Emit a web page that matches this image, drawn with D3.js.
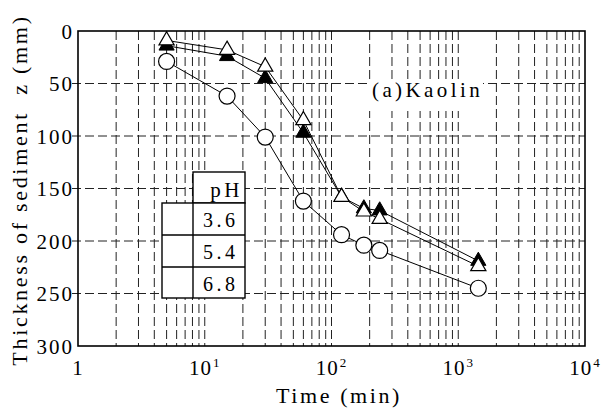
<!DOCTYPE html>
<html><head><meta charset="utf-8">
<script src="https://cdn.jsdelivr.net/npm/d3@7"></script>
<style>body{margin:0;background:#fff}svg{display:block}</style>
</head><body>
<svg id="c" width="602" height="413"></svg>
<script>
const times = [5, 15, 30, 60, 120, 180, 240, 1440];
const circleZ = [29, 62, 101, 162, 194, 204, 209, 245];
const blackTriZ = [14, 24, 45, 97, 158, 169, 171, 219];
const openTriZ = [9, 18, 34, 85, 158, 172, 179, 224];
const yTicks = [0, 50, 100, 150, 200, 250, 300];
const xDecades = [1, 10, 100, 1000, 10000];
const legendLabels = ["3.6", "5.4", "6.8"];

const FONT = "'Liberation Serif', 'Times New Roman', serif";
const svg = d3.select("#c");
const L = 78, R = 585, T = 31, B = 346;
const x = d3.scaleLog().domain([1, 10000]).range([L, R]);
const y = d3.scaleLinear().domain([0, 300]).range([T, B]);

function txt(sel, size, ls) {
  return sel.style("font-family", FONT).style("font-size", size + "px").style("letter-spacing", ls + "px").style("fill", "#000");
}

// grid
const minor = [];
for (let d = 1; d < 10000; d *= 10) for (let k = 2; k <= 10; k++) minor.push(d * k);
svg.append("g").selectAll("line").data(minor.filter(v => v < 10000)).join("line")
  .attr("x1", d => x(d)).attr("x2", d => x(d)).attr("y1", T).attr("y2", B)
  .attr("stroke", "#222").attr("stroke-width", 1).attr("stroke-dasharray", "9,4");
svg.append("g").selectAll("line").data(yTicks.slice(1, -1)).join("line")
  .attr("x1", L - 6).attr("x2", R).attr("y1", d => y(d)).attr("y2", d => y(d))
  .attr("stroke", "#222").attr("stroke-width", 1).attr("stroke-dasharray", "9,4");

// frame
svg.append("rect").attr("x", L).attr("y", T).attr("width", R - L).attr("height", B - T)
  .attr("fill", "none").attr("stroke", "#000").attr("stroke-width", 1.6);

// y tick labels
txt(svg.append("g").selectAll("text").data(yTicks).join("text")
  .attr("x", L - 4).attr("y", d => y(d) + 7.5).attr("text-anchor", "end"), 21, 2).text(d => d);

// x tick labels
const xl = txt(svg.append("g").selectAll("text").data(xDecades).join("text")
  .attr("x", d => x(d)).attr("y", B + 29).attr("text-anchor", "middle"), 21, 1);
xl.each(function(d, i) {
  const t = d3.select(this);
  if (i === 0) { t.text("1"); return; }
  t.append("tspan").text("10");
  t.append("tspan").attr("dy", -8.5).attr("dx", 1).style("font-size", "13px").text(i);
});

// axis titles
txt(svg.append("text").attr("x", 339).attr("y", 403).attr("text-anchor", "middle"), 22, 2.6).text("Time (min)");
txt(svg.append("text").attr("transform", "translate(27,190) rotate(-90)")
  .attr("text-anchor", "middle"), 22, 2.7)
  .style("white-space", "pre")
  .text("Thickness of sediment  z (mm)");

// label with white box
svg.append("rect").attr("x", 368).attr("y", 80).attr("width", 115).attr("height", 31).attr("fill", "#fff");
txt(svg.append("text").attr("x", 372).attr("y", 97), 21, 3.4).text("(a)Kaolin");

// lines
const line = d3.line().x(d => x(d[0])).y(d => y(d[1]));
[circleZ, blackTriZ, openTriZ].forEach(s => {
  svg.append("path").datum(times.map((t, i) => [t, s[i]])).attr("d", line)
    .attr("fill", "none").attr("stroke", "#000").attr("stroke-width", 1);
});

// markers
svg.append("g").selectAll("circle").data(times.map((t, i) => [t, circleZ[i]])).join("circle")
  .attr("cx", d => x(d[0])).attr("cy", d => y(d[1])).attr("r", 8)
  .attr("fill", "#fff").attr("stroke", "#000").attr("stroke-width", 1.2);
const tri = d3.symbol().type(d3.symbolTriangle).size(100);
svg.append("g").selectAll("path").data(times.map((t, i) => [t, blackTriZ[i]])).join("path")
  .attr("d", tri).attr("transform", d => `translate(${x(d[0])},${y(d[1])})`)
  .attr("fill", "#000").attr("stroke", "#000").attr("stroke-width", 1);
svg.append("g").selectAll("path").data(times.map((t, i) => [t, openTriZ[i]])).join("path")
  .attr("d", tri).attr("transform", d => `translate(${x(d[0])},${y(d[1])})`)
  .attr("fill", "#fff").attr("stroke", "#000").attr("stroke-width", 1.2);

// legend table
const lg = svg.append("g");
const cx0 = 162, cx1 = 193, cx2 = 245, hy0 = 172, ry = [203, 235, 267, 298];
lg.append("rect").attr("x", cx1).attr("y", hy0).attr("width", cx2 - cx1).attr("height", ry[0] - hy0)
  .attr("fill", "#fff").attr("stroke", "#000").attr("stroke-width", 1.4);
lg.append("rect").attr("x", cx0).attr("y", ry[0]).attr("width", cx2 - cx0).attr("height", ry[3] - ry[0])
  .attr("fill", "#fff").attr("stroke", "#000").attr("stroke-width", 1.4);
lg.append("line").attr("x1", cx1).attr("x2", cx1).attr("y1", ry[0]).attr("y2", ry[3]).attr("stroke", "#000").attr("stroke-width", 1.4);
[ry[1], ry[2]].forEach(v => lg.append("line").attr("x1", cx0).attr("x2", cx2).attr("y1", v).attr("y2", v).attr("stroke", "#000").attr("stroke-width", 1.4));
txt(lg.append("text").attr("x", cx2 - 2).attr("y", 197).attr("text-anchor", "end"), 21, 3.5).text("pH");
txt(lg.selectAll("text.v").data(legendLabels).join("text").attr("class", "v")
  .attr("x", cx2 - 6.5).attr("y", (d, i) => ry[i] + 24).attr("text-anchor", "end"), 20, 3.5).text(d => d);
</script>
</body></html>
